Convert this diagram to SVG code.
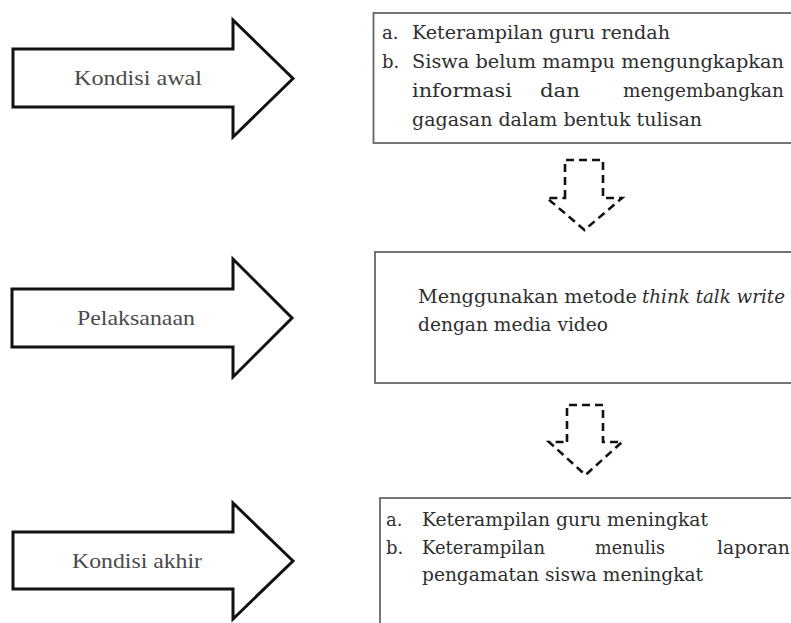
<svg xmlns="http://www.w3.org/2000/svg" width="791" height="623" viewBox="0 0 791 623">
<style>
.bg{fill:#ffffff}
.big{fill:#ffffff;stroke:#111;stroke-width:3;stroke-linejoin:miter}
.box{fill:#ffffff;stroke:#666;stroke-width:1.8}
.lbl{font-family:"Liberation Serif",serif;font-size:22px;fill:#4a4a4a}
.txt{font-family:"DejaVu Serif","Liberation Serif",serif;font-size:18px;fill:#2e2e2e}
.it{font-style:italic}
.dash{fill:none;stroke:#111;stroke-width:2.6;stroke-dasharray:8 5;stroke-linejoin:miter}
</style>
<rect class="bg" x="0" y="0" width="791" height="623"/>

<g id="arrow-kondisi-awal">
<path class="big" d="M13,49 L233,49 L233,20 L293,78.5 L233,137 L233,107 L13,107 Z"/>
<text class="lbl" x="74" y="85" textLength="128" lengthAdjust="spacingAndGlyphs">Kondisi awal</text>
</g>

<g id="arrow-pelaksanaan">
<path class="big" d="M12,289 L233,289 L233,259 L292,318 L233,377 L233,347 L12,347 Z"/>
<text class="lbl" x="77" y="325" textLength="118" lengthAdjust="spacingAndGlyphs">Pelaksanaan</text>
</g>

<g id="arrow-kondisi-akhir">
<path class="big" d="M13,532 L233,532 L233,503 L293,561 L233,619 L233,589 L13,589 Z"/>
<text class="lbl" x="72" y="568" textLength="130" lengthAdjust="spacingAndGlyphs">Kondisi akhir</text>
</g>

<g id="box-kondisi-awal">
<rect class="box" x="373.5" y="13" width="440" height="130"/>
<text class="txt" x="382" y="39">a.</text>
<text class="txt" x="412" y="39" textLength="258" lengthAdjust="spacingAndGlyphs">Keterampilan guru rendah</text>
<text class="txt" x="382" y="68">b.</text>
<text class="txt" x="412" y="68" textLength="372" lengthAdjust="spacingAndGlyphs">Siswa belum mampu mengungkapkan</text>
<text class="txt" x="412" y="97" textLength="100" lengthAdjust="spacingAndGlyphs">informasi</text>
<text class="txt" x="540" y="97" textLength="40" lengthAdjust="spacingAndGlyphs">dan</text>
<text class="txt" x="623" y="97" textLength="161" lengthAdjust="spacingAndGlyphs">mengembangkan</text>
<text class="txt" x="412" y="126" textLength="290" lengthAdjust="spacingAndGlyphs">gagasan dalam bentuk tulisan</text>
</g>

<g id="box-pelaksanaan">
<rect class="box" x="375" y="252" width="440" height="131"/>
<text class="txt" x="418" y="303" textLength="219" lengthAdjust="spacingAndGlyphs">Menggunakan metode</text>
<text class="txt it" x="642" y="303" textLength="143" lengthAdjust="spacingAndGlyphs">think talk write</text>
<text class="txt" x="418" y="331" textLength="190" lengthAdjust="spacingAndGlyphs">dengan media video</text>
</g>

<g id="box-kondisi-akhir">
<rect class="box" x="380" y="498" width="440" height="140"/>
<text class="txt" x="386" y="526">a.</text>
<text class="txt" x="422" y="526" textLength="286" lengthAdjust="spacingAndGlyphs">Keterampilan guru meningkat</text>
<text class="txt" x="386" y="554">b.</text>
<text class="txt" x="422" y="554" textLength="123" lengthAdjust="spacingAndGlyphs">Keterampilan</text>
<text class="txt" x="595" y="554" textLength="70" lengthAdjust="spacingAndGlyphs">menulis</text>
<text class="txt" x="717" y="554" textLength="73" lengthAdjust="spacingAndGlyphs">laporan</text>
<text class="txt" x="422" y="581" textLength="281" lengthAdjust="spacingAndGlyphs">pengamatan siswa meningkat</text>
</g>

<g id="connectors">
<path class="dash" d="M565,198 L565,160 L603,160 L603,198 L622,198 L584.5,230 L547,198 Z"/>
<path class="dash" d="M567,442 L567,405 L603,405 L603,442 L622,442 L585.5,475 L549,442 Z"/>
</g>
</svg>
